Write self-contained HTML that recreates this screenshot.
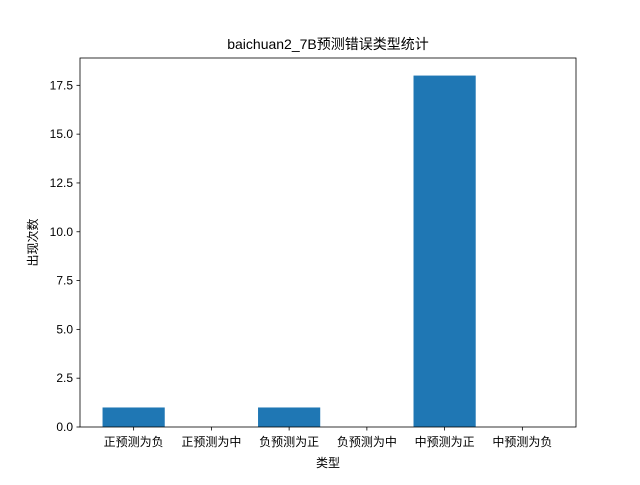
<!DOCTYPE html>
<html><head><meta charset="utf-8"><style>
body{margin:0;background:#fff}
svg text{font-family:"Liberation Sans","Noto Sans CJK SC",sans-serif;fill:#000}
</style></head><body>
<svg width="640" height="480" xmlns="http://www.w3.org/2000/svg">
<rect width="640" height="480" fill="#fff"/>
<g id="plot"></g>
</svg>
<script>
const categories=["正预测为负","正预测为中","负预测为正","负预测为中","中预测为正","中预测为负"];
const values=[1,0,1,0,18,0];
const yTicks=[0,2.5,5,7.5,10,12.5,15,17.5];
const yTickLabels=["0.0","2.5","5.0","7.5","10.0","12.5","15.0","17.5"];
const L=80,R=576,T=58,B=427;
const xmin=-0.69,xmax=5.69,ymax=Math.max(...values)*1.05||1;
const X=v=>L+(v-xmin)/(xmax-xmin)*(R-L);
const Y=v=>B-v/ymax*(B-T);
const NS="http://www.w3.org/2000/svg";
const g=document.getElementById('plot');
function mk(t,a,txt){const e=document.createElementNS(NS,t);for(const k in a)e.setAttribute(k,a[k]);if(txt!==undefined)e.textContent=txt;g.appendChild(e);return e;}
values.forEach((v,i)=>{
 const r=mk('rect',{x:X(i-0.4),y:Y(v),width:X(i+0.4)-X(i-0.4),height:B-Y(v),fill:'#1f77b4'});
 
 
 const tk=mk('line',{x1:X(i),x2:X(i),y1:B,y2:B+3.5,stroke:'#000','stroke-width':0.8});
 
 
 const tl=mk('text',{x:X(i),y:B+19,'text-anchor':'middle','font-size':12},categories[i]);
 
 
});
yTicks.forEach((v,i)=>{
 const tk=mk('line',{x1:L-3.5,x2:L,y1:Y(v),y2:Y(v),stroke:'#000','stroke-width':0.8});
 
 
 const tl=mk('text',{x:L-7,y:Y(v)+4,'text-anchor':'end','font-size':12},yTickLabels[i]);
 
 
});
const fr=mk('rect',{x:L,y:T,width:R-L,height:B-T,fill:'none',stroke:'#000','stroke-width':0.8});


const tt=mk('text',{x:(L+R)/2,y:T-9,'text-anchor':'middle','font-size':14},'baichuan2_7B预测错误类型统计');


const xt=mk('text',{x:(L+R)/2,y:467,'text-anchor':'middle','font-size':12},'类型');


const yt=mk('text',{x:0,y:0,'text-anchor':'middle','font-size':12,transform:`translate(37,${(T+B)/2}) rotate(-90)`},'出现次数');


</script>
</body></html>
